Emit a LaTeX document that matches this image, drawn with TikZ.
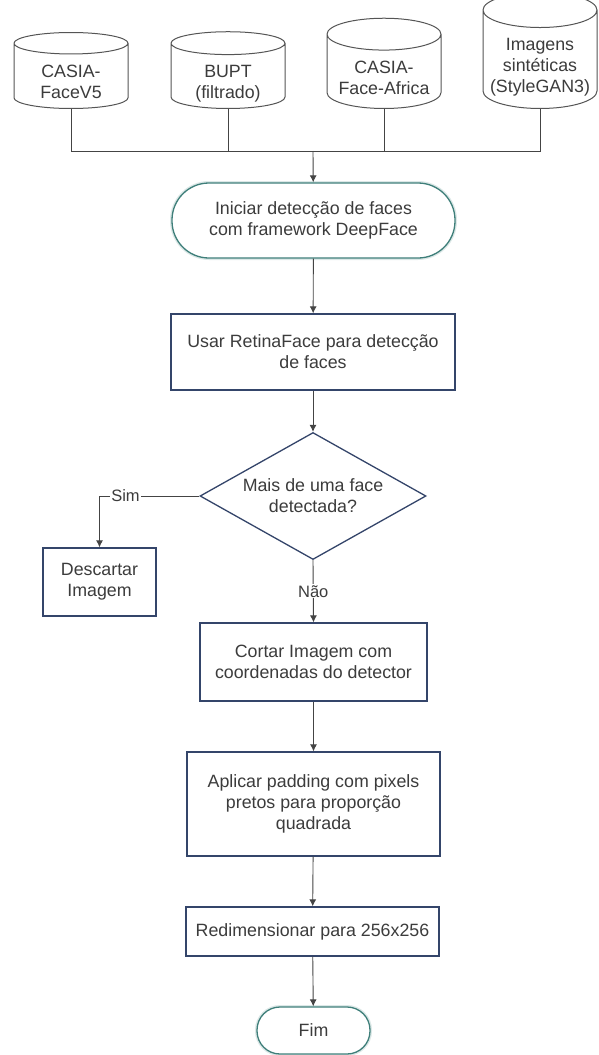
\documentclass[tikz,border=0pt]{standalone}
\usepackage{fontspec}
\setmainfont{Liberation Sans}
\usepackage{tikz}
\usetikzlibrary{shapes.geometric, arrows.meta}

\definecolor{txtgray}{HTML}{3C3C3C}
\definecolor{linegray}{HTML}{444444}
\definecolor{cylgray}{HTML}{555555}
\definecolor{boxblue}{HTML}{34456A}
\definecolor{termteal}{HTML}{3F7F7A}

% texto do cilindro, baixado para o corpo
\newcommand{\dbtext}[1]{\raisebox{-8pt}[\height][\depth]{\begin{tabular}{@{}c@{}}#1\end{tabular}}}

\tikzset{
    every node/.style={text=txtgray, font=\fontsize{17.8}{21}\selectfont, align=center, inner sep=0pt},
    dbcyl/.style={cylinder, shape border rotate=90, aspect=0.35, draw=cylgray, line width=1pt, fill=white,
        minimum width=114pt},
    procbox/.style={rectangle, draw=boxblue, line width=1.3pt, fill=white},
    termbox/.style={rectangle, draw=termteal, line width=1.3pt, fill=white,
        preaction={draw=termteal!18, line width=4pt}},
    decbox/.style={diamond, aspect=1.78, draw=boxblue, line width=1.3pt, fill=white,
        minimum width=226pt, minimum height=127pt},
    conn/.style={draw=linegray, line width=0.9pt},
    flow/.style={conn, -{Latex[length=7pt, width=7pt]}},
    lbl/.style={fill=white, inner sep=1pt, font=\fontsize{16.5}{19}\selectfont}
}

\begin{document}
\begin{tikzpicture}[x=1pt, y=-1pt]
    \useasboundingbox (0,0) rectangle (598,1055);

    % bases de dados
    \node[dbcyl, minimum height=76pt, anchor=south] (casia) at (71,109) {\dbtext{CASIA-\\FaceV5}};
    \node[dbcyl, minimum height=76pt, anchor=south] (bupt) at (228,109) {\dbtext{BUPT\\(filtrado)}};
    \node[dbcyl, minimum height=76pt, anchor=south] (africa) at (384,109) {\dbtext{CASIA-\\Face-Africa}};
    \node[dbcyl, minimum height=102pt, anchor=south] (synth) at (540,109) {\dbtext{Imagens\\sintéticas\\(StyleGAN3)}};
    \coordinate (bus) at (313,151);

    % fluxo principal
    \node[termbox, minimum width=283pt, minimum height=75pt, rounded corners=37pt] (start) at (313.5,220.5)
        {Iniciar detecção de faces\\com framework DeepFace};
    \node[procbox, minimum width=284pt, minimum height=76pt] (retina) at (313,352)
        {Usar RetinaFace para detecção\\de faces};
    \node[decbox] (multi) at (313,496) {Mais de uma face\\detectada?};
    \node[procbox, minimum width=113pt, minimum height=68pt] (discard) at (99.5,582) {Descartar\\Imagem};
    \node[procbox, minimum width=227pt, minimum height=78pt] (crop) at (313.5,662)
        {Cortar Imagem com\\coordenadas do detector};
    \node[procbox, minimum width=253pt, minimum height=104pt] (pad) at (313.5,804)
        {Aplicar padding com pixels\\pretos para proporção\\quadrada};
    \node[procbox, minimum width=253pt, minimum height=49pt] (resize) at (312.5,931.5)
        {Redimensionar para 256x256};
    \node[termbox, minimum width=113pt, minimum height=47pt, rounded corners=23pt] (fim) at (313.5,1030.5) {Fim};

    % conexoes
    \foreach \db in {casia, bupt, africa, synth}
        \draw[conn] (\db.south) |- (bus);
    \draw[flow] (bus) -- (start);
    \draw[flow] (start) -- (retina);
    \draw[flow] (retina) -- (multi);
    \draw[flow] (multi.west) -| node[lbl, pos=0.37] {Sim} (discard.north);
    \draw[flow] (multi.south) -- node[lbl, pos=0.5] {Não} (crop.north);
    \draw[flow] (crop) -- (pad);
    \draw[flow] (pad) -- (resize);
    \draw[flow] (resize) -- (fim);
\end{tikzpicture}
\end{document}
